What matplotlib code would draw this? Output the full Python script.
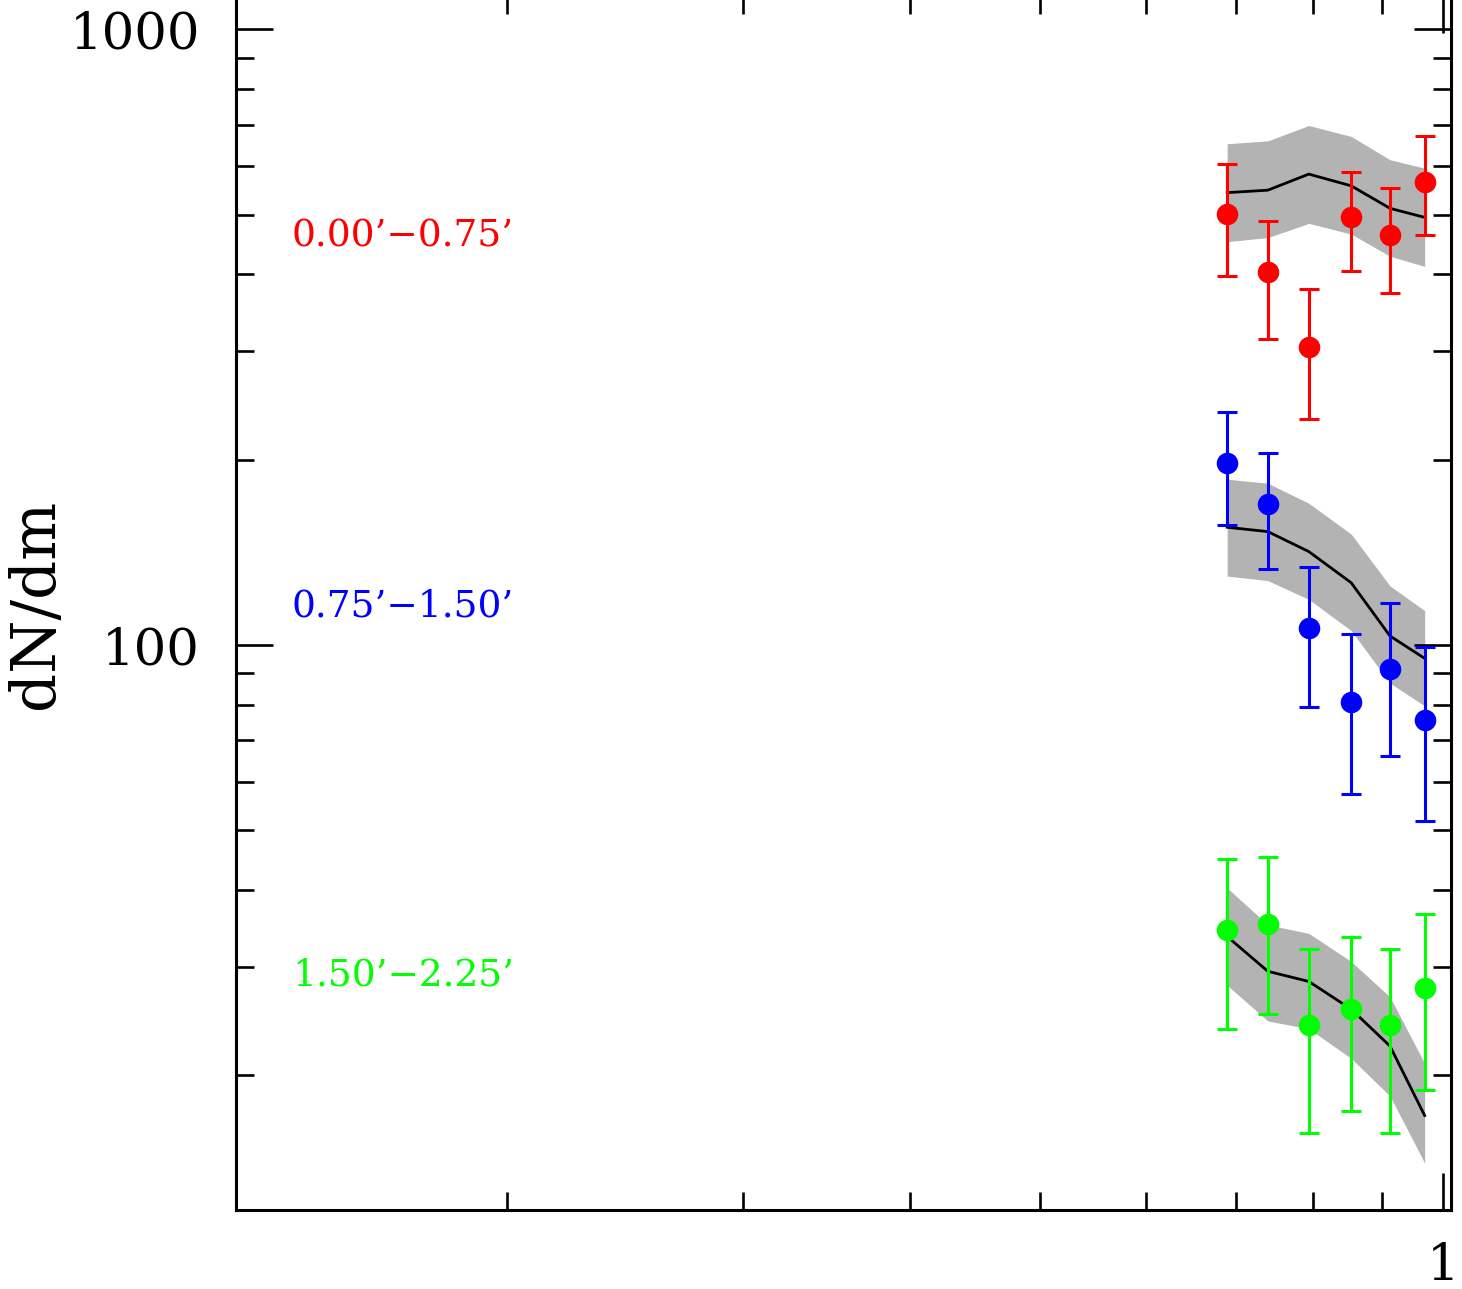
import matplotlib
matplotlib.use('Agg')
import matplotlib.pyplot as plt
from matplotlib.ticker import LogLocator, NullFormatter, FixedLocator, FixedFormatter

# magnitude bins (in axis units)
x = [0.690, 0.740, 0.794, 0.854, 0.913, 0.969]

# 0.00'-0.75'
red_y = [501, 403, 305, 496, 464, 566]
red_hi = [604, 489, 378, 587, 553, 670]
red_lo = [398, 314, 233, 405, 373, 464]
red_model = [543, 548, 582, 557, 512, 495]
red_band_hi = [652, 659, 698, 670, 614, 595]
red_band_lo = [452, 459, 484, 465, 428, 412]

# 0.75'-1.50'
blue_y = [197.8, 169.3, 106.7, 80.7, 91.5, 75.5]
blue_hi = [238.8, 205.1, 133.9, 104.1, 117.1, 99.1]
blue_lo = [156.5, 132.9, 79.3, 57.2, 65.9, 51.8]
blue_model = [155.3, 152.8, 141.8, 126.2, 103.4, 95.1]
blue_band_hi = [185.9, 183.1, 169.9, 151.4, 124.7, 113.7]
blue_band_lo = [129.4, 127.2, 118.6, 105.5, 86.7, 79.6]

# 1.50'-2.25'
green_y = [34.4, 35.2, 24.1, 25.6, 24.1, 27.7]
green_hi = [44.9, 45.2, 32.1, 33.6, 32.1, 36.6]
green_lo = [23.8, 25.1, 16.1, 17.5, 16.1, 18.9]
green_model = [33.6, 29.5, 28.4, 25.6, 22.3, 17.2]
green_band_hi = [40.3, 35.1, 34.0, 30.6, 26.8, 20.9]
green_band_lo = [28.0, 24.5, 23.8, 21.3, 18.5, 14.4]

labels = ["0.00\u2019\u22120.75\u2019", "0.75\u2019\u22121.50\u2019", "1.50\u2019\u22122.25\u2019"]
colors = ['#ff0000', '#0000ff', '#00ff00']

plt.rcParams['font.family'] = 'DejaVu Serif'

fig = plt.figure(figsize=(14.62, 12.89), dpi=100)
ax = fig.add_axes([236 / 1462, 79 / 1289, 1215 / 1462, 1214 / 1289])
ax.set_xscale('log')
ax.set_yscale('log')

series = [
    (red_y, red_hi, red_lo, red_model, red_band_hi, red_band_lo),
    (blue_y, blue_hi, blue_lo, blue_model, blue_band_hi, blue_band_lo),
    (green_y, green_hi, green_lo, green_model, green_band_hi, green_band_lo),
]
label_pos = [0.794, 0.489, 0.1853]

for (yv, hi, lo, model, bhi, blo), col, lab, ypos in zip(series, colors, labels, label_pos):
    ax.fill_between(x, blo, bhi, color='#b3b3b3', lw=0, zorder=1)
    ax.plot(x, model, color='black', lw=2, zorder=2)
    err = [[v - l for v, l in zip(yv, lo)], [h - v for v, h in zip(yv, hi)]]
    ax.errorbar(x, yv, yerr=err, fmt='o', color=col, ms=14.5, elinewidth=2.2,
                capsize=7, capthick=2.2, zorder=3)
    ax.text(0.046, ypos, lab, color=col, fontsize=27, transform=ax.transAxes,
            va='baseline', ha='left')

ax.set_xlim(0.1255, 1.0139)
ax.set_ylim(12.08, 1133)

ax.xaxis.set_major_locator(FixedLocator([1.0]))
ax.xaxis.set_major_formatter(FixedFormatter(['1']))
ax.xaxis.set_minor_locator(LogLocator(base=10, subs=range(2, 10)))
ax.xaxis.set_minor_formatter(NullFormatter())
ax.yaxis.set_major_locator(FixedLocator([100, 1000]))
ax.yaxis.set_major_formatter(FixedFormatter(['100', '1000']))
ax.yaxis.set_minor_locator(LogLocator(base=10, subs=range(2, 10)))
ax.yaxis.set_minor_formatter(NullFormatter())

ax.tick_params(which='both', direction='in', top=True, right=True, width=1.9)
ax.tick_params(which='major', length=26.5, labelsize=37)
ax.tick_params(which='minor', length=13)
ax.tick_params(axis='y', which='major', pad=26)
ax.tick_params(axis='x', which='major', pad=23)
for s in ax.spines.values():
    s.set_linewidth(2.2)

fig.text(36 / 1462, 1 - 604 / 1289, 'dN/dm', fontsize=44, rotation=90,
         ha='center', va='center')

fig.savefig('out.png', dpi=100)
